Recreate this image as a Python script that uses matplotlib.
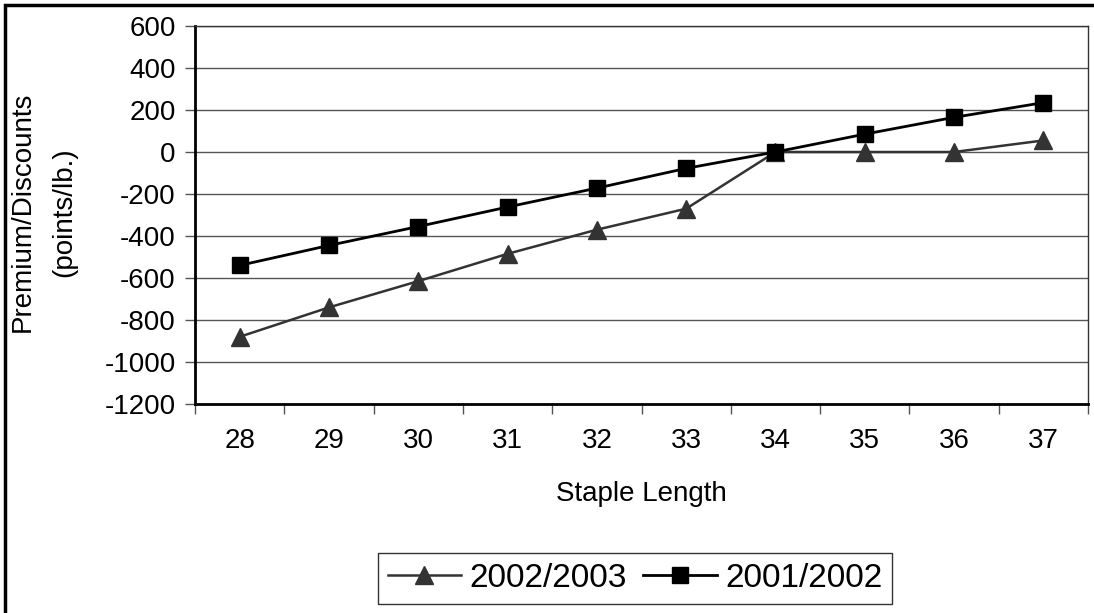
import matplotlib
matplotlib.use("Agg")
import matplotlib.pyplot as plt
from matplotlib.patches import Rectangle

plt.rcParams['font.family'] = ['Liberation Sans', 'DejaVu Sans']

# Staple length categories and premium/discount schedules (points/lb.)
staple_length = [28, 29, 30, 31, 32, 33, 34, 35, 36, 37]
crop_2002_2003 = [-880, -740, -615, -485, -370, -270, 0, 0, 0, 55]
crop_2001_2002 = [-540, -445, -355, -262, -172, -78, 0, 85, 165, 235]
y_ticks = [600, 400, 200, 0, -200, -400, -600, -800, -1000, -1200]

W, H = 1094, 613
fig = plt.figure(figsize=(W / 100, H / 100), dpi=100)

def fx(px):
    return px / W

def fy(py):
    return 1 - py / H

left, right, top, bottom = 195, 1088, 26, 404
ax = fig.add_axes([fx(left), fy(bottom), fx(right - left), (bottom - top) / H])

x = list(range(len(staple_length)))
ax.plot(x, crop_2002_2003, color='#333333', lw=1.8, marker='^', ms=13,
        markeredgecolor='#333333', markerfacecolor='#333333', zorder=3,
        label='2002/2003')
ax.plot(x, crop_2001_2002, color='black', lw=2.0, marker='s', ms=11,
        markeredgecolor='black', markerfacecolor='black', zorder=4,
        label='2001/2002')

ax.set_xlim(-0.5, len(staple_length) - 0.5)
ax.set_ylim(-1200, 600)
ax.set_yticks(y_ticks)
ax.set_yticklabels([str(v) for v in y_ticks], fontsize=20)
ax.yaxis.grid(True, color='#555555', lw=1.0)
ax.set_axisbelow(True)

# category boundaries carry the tick marks, labels sit between them
ax.set_xticks([i - 0.5 for i in range(len(staple_length) + 1)])
ax.set_xticklabels([])
ax.set_xticks(x, minor=True)
ax.set_xticklabels([str(v) for v in staple_length], minor=True, fontsize=20)
ax.tick_params(axis='x', which='minor', length=0, pad=17)
ax.tick_params(axis='x', which='major', length=7, width=1, color='#555555',
               direction='out')
ax.tick_params(axis='y', length=7, width=1, color='#555555', direction='out',
               pad=7)

for side in ('left', 'bottom'):
    ax.spines[side].set_linewidth(2)
    ax.spines[side].set_color('black')
for side in ('top', 'right'):
    ax.spines[side].set_linewidth(1)
    ax.spines[side].set_color('#333333')

fig.text(fx((left + right) / 2), fy(494), 'Staple Length', fontsize=20,
         ha='center', va='center')
fig.text(fx(23), fy(212), 'Premium/Discounts', fontsize=20, rotation=90,
         ha='center', va='center')
fig.text(fx(64), fy(212), '(points/lb.)', fontsize=20, rotation=90,
         ha='center', va='center')

leg = fig.legend(loc='center', bbox_to_anchor=(fx(635), fy(578.5)), ncol=2,
                 fontsize=24, frameon=True, fancybox=False, edgecolor='black',
                 handlelength=2.2, handletextpad=0.25, columnspacing=0.5,
                 borderpad=0.3, borderaxespad=0)
leg.get_frame().set_linewidth(1.0)

# outer chart border
fig.patches.append(Rectangle((fx(4.5), -0.05), 1.1, fy(5) + 0.05,
                             transform=fig.transFigure, fill=False,
                             edgecolor='black', lw=2.5))

fig.savefig('out.png', dpi=100)
